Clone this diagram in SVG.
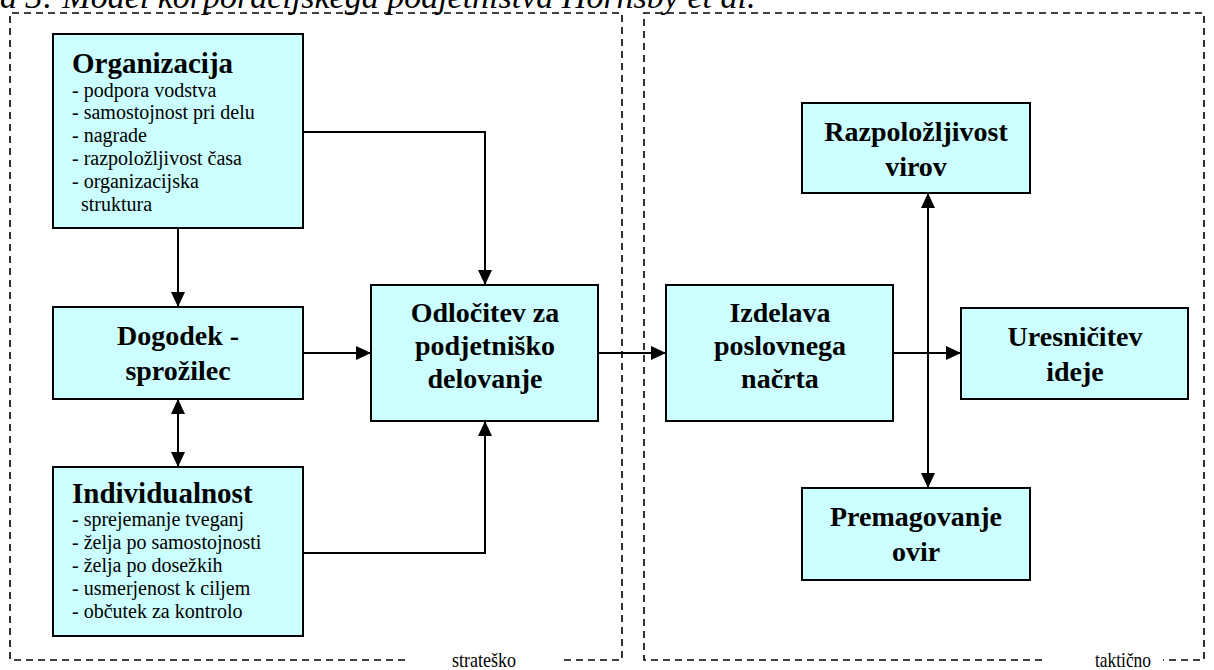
<svg xmlns="http://www.w3.org/2000/svg" width="1214" height="670" viewBox="0 0 1214 670">
<style>
.box{fill:#CCFFFF;stroke:#000;stroke-width:2}
.t{font-family:"Liberation Serif",serif;font-weight:bold;font-size:28px;text-anchor:middle;fill:#000}
.h{font-family:"Liberation Serif",serif;font-weight:bold;font-size:29px;fill:#000}
.i{font-family:"Liberation Serif",serif;font-size:20px;fill:#000}
.dash{fill:none;stroke:#000;stroke-width:1.6;stroke-dasharray:7 5}
.c{fill:none;stroke:#000;stroke-width:2}
.lab{font-family:"Liberation Serif",serif;font-size:22px;fill:#000}
</style>
<defs>
<marker id="ah" markerUnits="userSpaceOnUse" markerWidth="16" markerHeight="16" viewBox="0 0 16 16" refX="15" refY="8" orient="auto-start-reverse">
<path d="M0,1 L15,8 L0,15 Z" fill="#000"/>
</marker>
</defs>
<rect width="1214" height="670" fill="#fff"/>
<text x="0" y="8" font-family="Liberation Serif,serif" font-style="italic" font-size="34" fill="#000">a 3: Model korporacijskega podjetništva Hornsby et al.</text>
<g id="regions">
<path class="dash" d="M405,660 H10 V13 H622 V660 H560"/>
<text class="lab" x="452" y="667" textLength="64" lengthAdjust="spacingAndGlyphs">strateško</text>
<path class="dash" d="M1042,660 H644 V13 H1204 V660 H1163"/>
<text class="lab" x="1095" y="667" textLength="56" lengthAdjust="spacingAndGlyphs">taktično</text>
</g>
<g id="connectors">
<path class="c" d="M178,228 V307" marker-end="url(#ah)"/>
<path class="c" d="M178,399 V467" marker-start="url(#ah)" marker-end="url(#ah)"/>
<path class="c" d="M303,353 H371" marker-end="url(#ah)"/>
<path class="c" d="M303,132 H485 V285" marker-end="url(#ah)"/>
<path class="c" d="M303,553 H485 V421" marker-end="url(#ah)"/>
<path class="c" d="M598,353 H666" marker-end="url(#ah)"/>
<path class="c" d="M893,353 H961" marker-end="url(#ah)"/>
<path class="c" d="M928,193 V488" marker-start="url(#ah)" marker-end="url(#ah)"/>
</g>
<g id="organizacija">
<rect class="box" x="53" y="34" width="250" height="194"/>
<text class="h" x="72" y="73">Organizacija</text>
<text class="i" x="72" y="97">- podpora vodstva</text>
<text class="i" x="72" y="119">- samostojnost pri delu</text>
<text class="i" x="72" y="142">- nagrade</text>
<text class="i" x="72" y="165">- razpoložljivost časa</text>
<text class="i" x="72" y="188">- organizacijska</text>
<text class="i" x="81" y="211">struktura</text>
</g>
<g id="dogodek">
<rect class="box" x="53" y="307" width="250" height="92"/>
<text class="t" x="178" y="345">Dogodek -</text>
<text class="t" x="178" y="380">sprožilec</text>
</g>
<g id="individualnost">
<rect class="box" x="53" y="467" width="250" height="169"/>
<text class="h" x="72" y="503">Individualnost</text>
<text class="i" x="72" y="526">- sprejemanje tveganj</text>
<text class="i" x="72" y="549">- želja po samostojnosti</text>
<text class="i" x="72" y="572">- želja po dosežkih</text>
<text class="i" x="72" y="595">- usmerjenost k ciljem</text>
<text class="i" x="72" y="618">- občutek za kontrolo</text>
</g>
<g id="odlocitev">
<rect class="box" x="371" y="285" width="227" height="136"/>
<text class="t" x="485" y="322">Odločitev za</text>
<text class="t" x="485" y="355">podjetniško</text>
<text class="t" x="485" y="388">delovanje</text>
</g>
<g id="izdelava">
<rect class="box" x="666" y="285" width="227" height="136"/>
<text class="t" x="780" y="322">Izdelava</text>
<text class="t" x="780" y="355">poslovnega</text>
<text class="t" x="780" y="388">načrta</text>
</g>
<g id="razpolozljivost">
<rect class="box" x="802" y="103" width="228" height="90"/>
<text class="t" x="916" y="141">Razpoložljivost</text>
<text class="t" x="916" y="176">virov</text>
</g>
<g id="uresnicitev">
<rect class="box" x="961" y="308" width="227" height="91"/>
<text class="t" x="1075" y="346">Uresničitev</text>
<text class="t" x="1075" y="381">ideje</text>
</g>
<g id="premagovanje">
<rect class="box" x="802" y="488" width="228" height="92"/>
<text class="t" x="916" y="526">Premagovanje</text>
<text class="t" x="916" y="561">ovir</text>
</g>
</svg>
